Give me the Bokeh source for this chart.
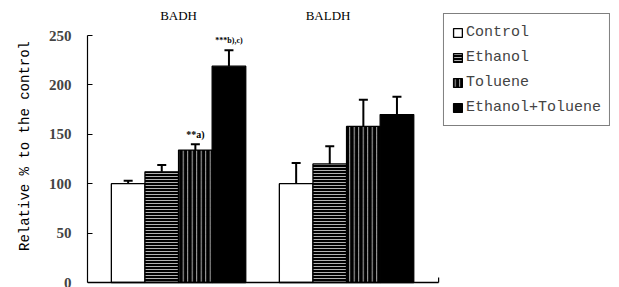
from bokeh.plotting import figure
from bokeh.models import (ColumnDataSource, Range1d, Whisker, TeeHead, Legend,
                          LegendItem, FixedTicker)
from bokeh.core.properties import value
from bokeh.embed import file_html
from bokeh.resources import INLINE

# ---- data ----
groups = ["BADH", "BALDH"]
series = ["Control", "Ethanol", "Toluene", "Ethanol+Toluene"]
badh = [100, 112, 134, 219]
badh_err = [3, 7, 6, 16]
baldh = [100, 120, 158, 170]
baldh_err = [21, 18, 27, 18]
sig_badh = ["", "", "**a)", "***b),c)"]
y_ticks = [0, 50, 100, 150, 200, 250]

# ---- layout constants ----
W, H = 619, 287
LEFT = 87
TOP = 4
PX_X = 33.6
PX_Y = 0.988
X_START = -0.71
X_AXIS_END = 9.74
Y_START = -5.06
GROUP_STEP = 5
title_dx = [0.0, -0.55]

fills = ["white", "black", "black", "black"]
hatches = [None, "horizontal_line", "vertical_line", None]
hatch_scales = [None, 3.0, 4.5, None]

x_end = X_START + (W - LEFT) / PX_X
y_end = Y_START + (H - TOP) / PX_Y

p = figure(width=W, height=H, output_backend="svg", toolbar_location=None,
           x_range=Range1d(X_START, x_end), y_range=Range1d(Y_START, y_end),
           min_border_left=LEFT, min_border_right=0, min_border_top=TOP,
           min_border_bottom=0)
p.outline_line_color = None
p.grid.visible = False
p.xaxis.visible = False

vals = [badh, baldh]
errs = [badh_err, baldh_err]

renderers = []
for s, name in enumerate(series):
    xs = [g * GROUP_STEP + s + 0.5 for g in range(len(groups))]
    tops = [vals[g][s] for g in range(len(groups))]
    src = ColumnDataSource(dict(x=xs, top=tops))
    kw = dict(x="x", top="top", bottom=0, width=1.0, source=src,
              fill_color=fills[s], line_color="black", line_width=1.3)
    if hatches[s]:
        kw.update(hatch_pattern=hatches[s], hatch_color="white",
                  hatch_scale=hatch_scales[s], hatch_weight=0.7)
    r = p.vbar(**kw)
    renderers.append(r)

# error bars (upper only)
bx, blo, bup = [], [], []
for g in range(len(groups)):
    for s in range(len(series)):
        bx.append(g * GROUP_STEP + s + 0.5)
        blo.append(vals[g][s])
        bup.append(vals[g][s] + errs[g][s])
esrc = ColumnDataSource(dict(base=bx, lower=blo, upper=bup))
wh = Whisker(base="base", lower="lower", upper="upper", source=esrc,
             lower_head=None, upper_head=TeeHead(size=9, line_width=2, line_color="black"),
             line_width=2, line_color="black")
p.add_layout(wh)

# baseline axis
p.segment(x0=[X_START], y0=[0], x1=[X_AXIS_END], y1=[0], line_color="black", line_width=1.5)
p.segment(x0=[X_AXIS_END], y0=[0], x1=[X_AXIS_END], y1=[5], line_color="black", line_width=1.2)

# group titles
tx = [g * GROUP_STEP + 2 + title_dx[g] for g in range(len(groups))]
p.text(x=tx, y=[270, 270], text=groups, text_align="center", text_baseline="middle",
       text_font=value("Liberation Serif"), text_font_size="13px", text_color="black")

# significance labels
sx = [s + 0.5 for s in range(len(series)) if sig_badh[s]]
sy = [badh[s] + badh_err[s] + 10 for s in range(len(series)) if sig_badh[s]]
st = [t for t in sig_badh if t]
ssz = ["10px", "8px"]
for i in range(len(st)):
    p.text(x=[sx[i]], y=[sy[i]], text=[st[i]], text_align="center", text_baseline="middle",
           text_font=value("Liberation Serif"), text_font_size=ssz[i],
           text_font_style="bold", text_color="black")

# y axis
ya = p.yaxis[0]
ya.ticker = FixedTicker(ticks=y_ticks)
ya.bounds = (0, 250)
ya.major_tick_in = 5
ya.major_tick_out = 0
ya.minor_tick_line_color = None
ya.axis_line_width = 1.2
ya.major_label_text_font = "Liberation Serif"
ya.major_label_text_font_style = "bold"
ya.major_label_text_font_size = "15px"
ya.major_label_standoff = 16
ya.axis_label = "Relative % to the control"
ya.axis_label_text_font = "Liberation Mono"
ya.axis_label_text_font_style = "normal"
ya.axis_label_text_font_size = "14px"
ya.axis_label_text_color = "black"
ya.axis_label_standoff = 13

legend = Legend(items=[LegendItem(label=n, renderers=[r]) for n, r in zip(series, renderers)],
                location="top_right", glyph_width=11, glyph_height=11, label_standoff=3,
                spacing=5, label_height=20, padding=8, margin=9,
                label_text_font="Liberation Mono", label_text_font_size="15px",
                border_line_color="black", border_line_width=1,
                background_fill_alpha=1.0)
p.add_layout(legend)

open("out.html", "w").write(file_html(p, INLINE))
